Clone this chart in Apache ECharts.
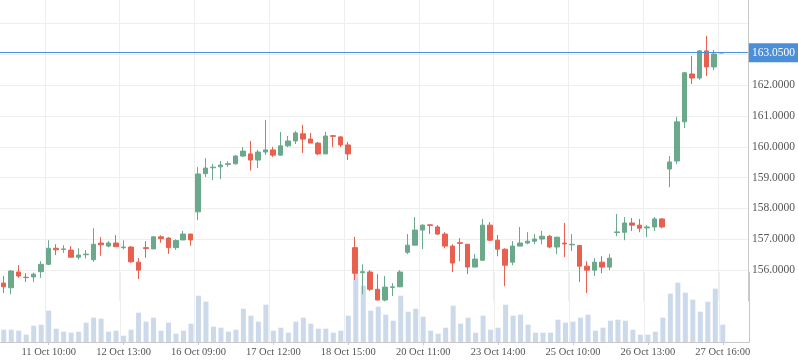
<!DOCTYPE html>
<html>
<head>
<meta charset="utf-8">
<script src="https://cdn.jsdelivr.net/npm/echarts@6/dist/echarts.min.js"></script>
<style>
html,body{margin:0;padding:0;background:#fff;}
#c{width:798px;height:363px;}
</style>
</head>
<body>
<div id="c"></div>
<script>
const categories = [
 '10 Oct 11:00','10 Oct 12:00','10 Oct 13:00','10 Oct 14:00','10 Oct 15:00',
 '11 Oct 09:00','11 Oct 10:00','11 Oct 11:00','11 Oct 12:00','11 Oct 13:00','11 Oct 14:00','11 Oct 15:00',
 '12 Oct 09:00','12 Oct 10:00','12 Oct 11:00','12 Oct 12:00','12 Oct 13:00','12 Oct 14:00','12 Oct 15:00',
 '13 Oct 09:00','13 Oct 10:00','13 Oct 11:00','13 Oct 12:00','13 Oct 13:00','13 Oct 14:00','13 Oct 15:00',
 '16 Oct 09:00','16 Oct 10:00','16 Oct 11:00','16 Oct 12:00','16 Oct 13:00','16 Oct 14:00','16 Oct 15:00',
 '17 Oct 09:00','17 Oct 10:00','17 Oct 11:00','17 Oct 12:00','17 Oct 13:00','17 Oct 14:00','17 Oct 15:00',
 '18 Oct 09:00','18 Oct 10:00','18 Oct 11:00','18 Oct 12:00','18 Oct 13:00','18 Oct 14:00','18 Oct 15:00',
 '19 Oct 09:00','19 Oct 10:00','19 Oct 11:00','19 Oct 12:00','19 Oct 13:00','19 Oct 14:00','19 Oct 15:00',
 '20 Oct 09:00','20 Oct 10:00','20 Oct 11:00','20 Oct 12:00','20 Oct 13:00','20 Oct 14:00','20 Oct 15:00',
 '23 Oct 09:00','23 Oct 10:00','23 Oct 11:00','23 Oct 12:00','23 Oct 13:00','23 Oct 14:00','23 Oct 15:00',
 '24 Oct 09:00','24 Oct 10:00','24 Oct 11:00','24 Oct 12:00','24 Oct 13:00','24 Oct 14:00','24 Oct 15:00',
 '25 Oct 09:00','25 Oct 10:00','25 Oct 11:00','25 Oct 12:00','25 Oct 13:00','25 Oct 14:00','25 Oct 15:00',
 '26 Oct 09:00','26 Oct 10:00','26 Oct 11:00','26 Oct 12:00','26 Oct 13:00','26 Oct 14:00','26 Oct 15:00',
 '27 Oct 09:00','27 Oct 10:00','27 Oct 11:00','27 Oct 12:00','27 Oct 13:00','27 Oct 14:00','27 Oct 15:00','27 Oct 16:00'
];
const emptySlots = ['', '', ''];

const opens = [155.58,155.43,155.94,155.77,155.78,155.95,156.19,156.71,156.67,156.65,156.42,156.50,156.34,156.88,156.78,156.88,156.73,156.75,156.26,156.73,156.69,157.08,157.04,156.73,156.98,157.17,157.89,159.13,159.32,159.35,159.43,159.45,159.70,159.77,159.57,159.83,159.90,159.73,160.03,160.19,160.42,160.25,160.12,159.77,160.36,160.32,160.06,156.73,155.92,155.94,155.38,155.03,155.44,155.46,156.58,156.81,157.30,157.47,157.40,157.17,156.78,156.89,156.84,156.10,156.32,157.46,156.97,156.68,156.26,156.78,156.88,156.94,157.01,157.10,156.75,156.88,156.82,156.80,156.13,156.00,156.26,156.10,157.22,157.23,157.53,157.46,157.37,157.40,157.66,159.28,159.54,160.81,162.36,162.23,163.11,162.59,163.04];
const closes = [155.46,155.97,155.81,155.76,155.87,156.19,156.71,156.66,156.69,156.42,156.49,156.52,156.84,156.82,156.88,156.76,156.75,156.27,156.00,156.70,157.08,157.02,156.73,156.96,157.17,156.98,159.12,159.31,159.34,159.41,159.45,159.70,159.86,159.57,159.83,159.90,159.73,160.03,160.19,160.45,160.25,160.12,159.77,160.35,160.34,160.06,159.77,155.90,155.95,155.38,155.03,155.45,155.46,155.94,156.81,157.30,157.46,157.45,157.17,156.78,156.23,156.87,156.10,156.36,157.46,156.97,156.68,156.16,156.78,156.88,156.94,157.01,157.10,156.75,157.07,156.85,156.84,156.13,156.00,156.26,156.10,156.39,157.24,157.53,157.46,157.36,157.40,157.66,157.40,159.51,160.81,162.40,162.23,163.11,162.59,163.01,163.05];
const lows = [155.26,155.22,155.75,155.62,155.62,155.75,156.16,156.49,156.56,156.42,156.34,156.38,156.27,156.47,156.74,156.75,156.67,156.24,155.71,156.40,156.68,156.89,156.53,156.66,156.97,156.79,157.62,159.02,158.92,158.95,159.35,159.42,159.67,159.23,159.31,159.74,159.67,159.71,159.99,160.09,159.80,160.12,159.73,159.77,159.99,159.99,159.57,155.68,155.22,155.32,155.03,154.99,155.16,155.45,156.52,156.81,156.68,157.17,157.14,156.71,155.94,156.29,155.87,156.10,156.32,156.94,156.45,155.48,156.16,156.78,156.84,156.84,156.84,156.71,156.52,156.42,156.62,155.62,155.26,155.81,155.90,156.00,157.10,156.97,157.27,157.23,157.07,157.27,157.36,158.69,159.44,160.61,162.04,162.17,162.30,162.49,163.04];
const highs = [155.81,156.00,156.16,155.90,155.92,156.29,156.97,156.84,156.81,156.78,156.71,156.65,157.36,157.07,156.94,157.14,156.97,156.78,156.39,156.94,157.10,157.13,157.07,157.00,157.27,157.18,159.34,159.63,159.44,159.54,159.53,159.73,159.99,160.19,159.90,160.87,160.00,160.48,160.35,160.51,160.71,160.45,160.16,160.48,160.38,160.35,160.16,157.08,156.19,156.00,155.87,155.81,155.58,156.00,157.17,157.72,157.49,157.48,157.46,157.23,156.84,157.04,156.85,156.52,157.66,157.56,157.14,156.71,156.94,157.40,157.23,157.17,157.27,157.14,157.08,157.53,157.17,156.81,156.29,156.39,156.45,156.52,157.82,157.72,157.69,157.66,157.46,157.72,157.69,159.70,160.97,162.43,162.95,163.14,163.60,163.14,163.06];
const volumes = [12.3,12.3,11.3,7.3,16.3,17.3,31.3,13.3,10.3,9.3,10.3,19.3,24.3,23.3,10.3,11.3,6.3,12.3,29.3,20.3,24.3,11.3,19.3,8.3,11.3,18.3,46.3,40.3,15.3,14.3,10.3,12.3,33.3,26.3,20.3,37.3,11.3,14.3,9.3,20.3,24.3,18.3,13.3,13.3,9.3,11.3,26.3,69.0,56.3,31.3,35.3,27.3,21.3,46.3,30.3,33.3,25.3,11.3,8.3,14.3,36.3,18.3,24.3,9.3,26.3,12.3,14.3,37.3,26.3,27.3,17.3,9.3,9.3,9.3,22.3,19.3,20.3,24.3,27.3,11.3,14.3,21.3,22.3,21.3,12.3,7.3,7.3,10.3,24.3,48.3,59.3,49.3,42.3,30.3,40.3,53.3,17.3];
const lastPrice = 163.05;
const priceTicks = [156,157,158,159,160,161,162,163];

const axisCats = categories.concat(emptySlots);
const lastIdx = categories.length - 1;
const labelEvery = function (idx) { return idx <= lastIdx && (lastIdx - idx) % 10 === 0; };
const candleData = opens.map(function (o, i) { return [o, closes[i], lows[i], highs[i]]; });

const UP = '#6ba88c', DOWN = '#e8604f', GRIDC = '#eeeeee', AXISC = '#c8c8c8', TXT = '#555';
const FONT = 'Liberation Serif';

const chart = echarts.init(document.getElementById('c'), null, {renderer: 'canvas'});
chart.setOption({
  animation: false,
  backgroundColor: '#fff',
  grid: [
    {left: -1, right: 49, top: 0, bottom: 62},
    {left: -1, right: 49, top: 272, bottom: 21}
  ],
  xAxis: [
    {type: 'category', gridIndex: 0, data: axisCats, boundaryGap: true,
     axisLine: {show: false}, axisTick: {show: false}, axisLabel: {show: false},
     splitLine: {show: true, interval: labelEvery, lineStyle: {color: GRIDC, width: 1}}},
    {type: 'category', gridIndex: 1, data: axisCats, boundaryGap: true,
     axisLine: {show: true, lineStyle: {color: AXISC}},
     axisTick: {show: true, interval: labelEvery, alignWithLabel: true, length: 3, lineStyle: {color: AXISC}},
     axisLabel: {show: true, interval: labelEvery, color: TXT, fontFamily: FONT, fontSize: 10.5, margin: 5},
     splitLine: {show: true, interval: labelEvery, lineStyle: {color: GRIDC, width: 1}}}
  ],
  yAxis: [
    {type: 'value', gridIndex: 0, position: 'right', min: 155, max: 164.76, interval: 1, scale: true,
     axisLine: {show: true, lineStyle: {color: AXISC}}, axisTick: {show: false},
     axisLabel: {color: TXT, fontFamily: FONT, fontSize: 11.5, margin: 4,
       formatter: function (v) { return priceTicks.indexOf(Math.round(v * 1000) / 1000) >= 0 ? v.toFixed(4) : ''; }},
     splitLine: {show: true, showMinLine: false, showMaxLine: false, lineStyle: {color: GRIDC, width: 1}}},
    {type: 'value', gridIndex: 1, position: 'right', min: 0, max: 70,
     axisLine: {show: true, lineStyle: {color: AXISC}}, axisTick: {show: false},
     axisLabel: {show: false}, splitLine: {show: false}}
  ],
  series: [
    {type: 'bar', xAxisIndex: 1, yAxisIndex: 1, data: volumes, barWidth: 5, z: 1,
     itemStyle: {color: '#ccd9eb'}},
    {type: 'candlestick', xAxisIndex: 0, yAxisIndex: 0, data: candleData, barWidth: 5, z: 3,
     itemStyle: {color: UP, color0: DOWN, borderColor: UP, borderColor0: DOWN, borderWidth: 1},
     markLine: {silent: true, symbol: ['none', 'none'], animation: false,
       lineStyle: {color: '#4a90d9', width: 1, type: 'solid'},
       label: {show: true, position: 'end', distance: 1, color: '#fff', backgroundColor: '#4a8fd8',
         padding: [4, 3, 3, 3], fontFamily: FONT, fontSize: 11.5,
         formatter: function () { return lastPrice.toFixed(4); }},
       data: [{yAxis: lastPrice}]}}
  ]
});
</script>
</body>
</html>
